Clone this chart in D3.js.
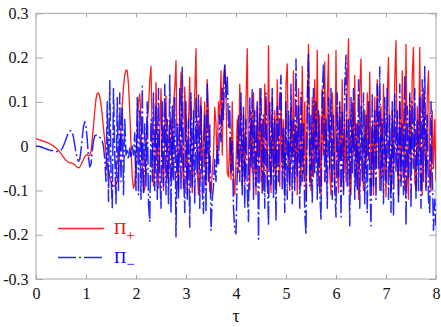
<!DOCTYPE html>
<html>
<head>
<meta charset="utf-8">
<script src="https://cdn.jsdelivr.net/npm/d3@7"></script>
<style>
  html, body { margin: 0; padding: 0; background: #fff; }
  svg { display: block; }
</style>
</head>
<body>
<svg id="chart" width="441" height="327"></svg>
<script>
// ---- data, one row of samples per unit of tau ----
const xTicks = [0, 1, 2, 3, 4, 5, 6, 7, 8];
const xTickLabels = ["0", "1", "2", "3", "4", "5", "6", "7", "8"];
const yTicks = [0.3, 0.2, 0.1, 0, -0.1, -0.2, -0.3];
const yTickLabels = ["0.3", "0.2", "0.1", "0", "-0.1", "-0.2", "-0.3"];
const seriesNames = ["\u03A0", "\u03A0"];
const seriesSubs = ["+", "\u2212"];

const piPlus = [
  [0.017,0.016,0.015,0.014,0.013,0.012,0.011,0.010,0.009,0.008,
   0.007,0.005,0.004,0.002,0.000,-0.002,-0.004,-0.007,-0.010,-0.013,
   -0.017,-0.021,-0.025,-0.029,-0.032,-0.034,-0.036,-0.037,-0.038,-0.039,
   -0.040,-0.042,-0.045,-0.048,-0.049,-0.047,-0.042,-0.036,-0.030,-0.024],
  [-0.020,-0.019,-0.022,-0.021,-0.012,0.015,0.045,0.080,0.107,0.119,
   0.120,0.112,0.095,0.070,0.040,0.012,-0.015,-0.038,-0.056,-0.070,
   -0.080,-0.087,-0.090,-0.090,-0.087,-0.078,-0.055,-0.015,0.040,0.095,
   0.135,0.160,0.172,0.170,0.140,0.080,0.000,-0.070,-0.095,-0.085],
  [-0.030,0.040,0.100,0.118,0.060,-0.040,-0.105,-0.095,-0.020,0.060,
   0.085,0.150,0.180,0.020,-0.090,-0.060,0.144,0.040,-0.095,0.020,
   0.130,-0.030,-0.100,0.030,0.114,-0.060,-0.085,0.050,0.060,-0.070,
   0.100,0.130,0.193,-0.050,-0.100,0.080,0.167,-0.020,-0.095,0.133],
  [0.020,-0.110,0.050,0.156,-0.040,-0.105,0.030,0.120,0.220,-0.060,
   -0.110,0.060,0.110,-0.080,0.020,0.100,-0.090,0.150,0.070,-0.100,
   -0.107,-0.060,-0.020,0.088,0.050,-0.040,0.100,0.060,0.170,-0.020,
   0.156,0.182,0.120,-0.060,-0.070,0.020,-0.075,0.100,-0.070,-0.110],
  [-0.040,0.060,-0.060,0.140,0.030,-0.090,0.070,-0.080,0.100,0.220,
   -0.050,-0.100,0.080,-0.060,0.120,-0.020,-0.110,0.090,-0.040,0.130,
   -0.080,0.060,-0.100,0.140,0.020,-0.090,0.227,-0.030,-0.105,0.110,
   -0.060,0.080,-0.100,0.150,0.030,-0.090,0.120,-0.050,0.060,-0.110],
  [0.140,0.186,-0.040,-0.100,0.090,-0.020,0.170,-0.080,0.050,-0.110,
   0.130,0.010,-0.090,0.180,-0.060,0.100,-0.120,0.060,0.230,-0.030,
   -0.100,0.110,-0.070,0.150,-0.040,0.216,-0.090,0.070,-0.110,0.130,
   -0.020,0.190,-0.080,0.100,0.208,-0.060,-0.110,0.120,0.030,-0.090],
  [0.216,-0.050,-0.105,0.090,-0.030,0.150,-0.100,0.060,-0.080,0.140,
   0.242,-0.060,-0.110,0.100,-0.020,0.160,-0.090,0.050,-0.120,0.130,
   0.197,-0.040,-0.100,0.080,-0.060,0.120,-0.030,0.167,-0.090,0.040,
   -0.110,0.110,-0.050,0.150,0.020,-0.100,0.090,-0.070,0.140,-0.030],
  [-0.115,0.120,0.200,-0.050,-0.100,0.080,-0.060,0.150,0.238,-0.030,
   -0.110,0.100,-0.080,0.170,0.020,-0.100,0.230,-0.050,-0.120,0.110,
   -0.040,0.160,0.223,-0.080,-0.100,0.090,-0.030,0.223,-0.060,-0.110,
   0.130,0.010,-0.090,0.110,0.170,-0.070,-0.100,0.080,-0.050,0.060],
  [-0.080]
];

const piMinus = [
  [0.000,0.000,0.000,-0.001,-0.002,-0.003,-0.004,-0.005,-0.006,-0.007,
   -0.008,-0.009,-0.010,-0.010,-0.011,-0.011,-0.012,-0.012,-0.012,-0.011,
   -0.009,-0.005,0.001,0.008,0.016,0.024,0.030,0.034,0.035,0.031,
   0.020,0.003,-0.015,-0.028,-0.034,-0.030,-0.010,0.020,0.045,0.055],
  [0.045,0.015,-0.025,-0.047,-0.040,-0.010,0.012,0.023,0.025,0.024,
   0.022,0.020,0.018,0.012,0.000,-0.030,-0.080,0.100,-0.125,0.148,
   -0.060,-0.139,0.130,-0.020,-0.130,0.110,-0.100,0.120,-0.080,0.090,
   -0.110,0.060,-0.020,-0.010,-0.030,-0.005,-0.025,0.000,-0.020,0.030],
  [-0.100,0.110,-0.110,0.080,-0.120,0.135,-0.107,0.050,-0.090,0.100,
   -0.130,-0.171,0.060,-0.080,0.120,-0.100,0.090,-0.120,0.130,-0.060,
   -0.140,0.100,-0.090,0.140,-0.110,0.060,-0.130,0.160,-0.152,0.090,
   -0.080,0.110,-0.205,0.050,-0.120,0.130,-0.100,0.178,-0.050,-0.150],
  [0.100,-0.120,0.060,-0.183,0.120,-0.090,0.080,-0.130,0.110,-0.060,
   0.120,-0.140,0.090,-0.100,-0.152,0.070,-0.150,0.144,-0.080,0.050,
   -0.190,-0.120,-0.090,-0.030,-0.080,0.000,-0.040,0.070,0.010,0.130,
   0.060,0.186,0.110,0.160,0.040,0.090,-0.060,0.010,-0.140,-0.190],
  [-0.198,-0.060,0.070,-0.080,0.120,-0.110,0.090,-0.140,0.060,-0.100,
   -0.170,0.110,-0.050,0.130,-0.120,0.080,-0.090,0.100,-0.210,0.050,
   0.130,-0.110,0.070,-0.140,0.120,-0.060,-0.180,0.100,-0.090,0.130,
   -0.120,0.060,-0.170,0.090,-0.080,0.110,0.160,-0.100,0.040,-0.150],
  [0.100,-0.120,0.080,-0.090,0.140,-0.130,0.060,-0.100,0.197,-0.070,
   0.090,-0.140,0.120,-0.080,0.050,-0.150,-0.200,0.110,0.210,-0.090,
   0.070,-0.130,0.130,-0.060,0.100,-0.120,0.080,-0.100,-0.167,0.120,
   0.186,-0.080,0.060,-0.140,0.110,-0.050,0.130,-0.120,0.070,-0.100],
  [-0.160,0.120,-0.070,0.100,-0.160,0.080,-0.110,0.140,0.205,-0.090,
   0.060,-0.180,0.110,-0.060,0.130,-0.120,0.050,-0.100,0.150,-0.140,
   0.090,-0.080,0.120,-0.130,0.070,-0.150,0.100,-0.060,-0.180,0.120,
   -0.090,0.080,-0.120,0.140,-0.050,0.179,-0.100,0.060,-0.130,0.110],
  [-0.080,0.130,-0.120,0.070,-0.150,0.100,-0.160,0.120,-0.060,0.080,
   -0.130,0.140,-0.090,0.050,-0.110,0.160,-0.180,0.090,-0.070,0.120,
   -0.140,0.100,-0.050,0.130,-0.120,0.060,-0.100,0.110,-0.140,0.150,
   -0.080,0.180,-0.100,0.070,-0.120,-0.150,0.100,-0.060,-0.190,-0.120],
  [-0.180]
];

// ---- helpers ----
function toPoints(rows) {
  const pts = [];
  rows.forEach((row, k) => row.forEach((v, j) => pts.push([k + j / row.length, v])));
  return pts;
}
const SERIF = "Liberation Serif";

// ---- layout ----
const svg = d3.select("#chart").attr("font-family", SERIF);
const L = 36, R = 436, T = 13.3, B = 279;
const x = d3.scaleLinear().domain([0, 8]).range([L, R]);
const y = d3.scaleLinear().domain([-0.3, 0.3]).range([B, T]);
const axisColor = "#a6a6a6";

svg.append("defs").append("clipPath").attr("id", "clip")
  .append("rect").attr("x", L).attr("y", T).attr("width", R - L).attr("height", B - T);

// frame
svg.append("rect").attr("x", L).attr("y", T).attr("width", R - L).attr("height", B - T)
  .attr("fill", "none").attr("stroke", axisColor).attr("stroke-width", 1);

function styleAxis(g, showText) {
  g.attr("font-family", SERIF).attr("font-size", 16);
  g.select(".domain").remove();
  g.selectAll(".tick line").attr("stroke", axisColor).attr("stroke-width", 1);
  g.selectAll(".tick text").attr("fill", "#111")
    .attr("font-family", SERIF).attr("font-size", 16);
  if (!showText) g.selectAll(".tick text").remove();
}

svg.append("g").attr("transform", `translate(0,${B})`)
  .call(d3.axisBottom(x).tickValues(xTicks).tickFormat((d, i) => xTickLabels[i])
    .tickSizeInner(-4).tickSizeOuter(0).tickPadding(8.5))
  .call(g => styleAxis(g, true));
svg.append("g").attr("transform", `translate(0,${T})`)
  .call(d3.axisTop(x).tickValues(xTicks).tickSizeInner(-4).tickSizeOuter(0))
  .call(g => styleAxis(g, false));
svg.append("g").attr("transform", `translate(${L},0)`)
  .call(d3.axisLeft(y).tickValues(yTicks).tickFormat((d, i) => yTickLabels[i])
    .tickSizeInner(-7).tickSizeOuter(0).tickPadding(7.5))
  .call(g => styleAxis(g, true));
svg.append("g").attr("transform", `translate(${R},0)`)
  .call(d3.axisRight(y).tickValues(yTicks).tickSizeInner(-7).tickSizeOuter(0))
  .call(g => styleAxis(g, false));

// axis title
svg.append("text").attr("x", x(4)).attr("y", 322).attr("text-anchor", "middle")
  .attr("font-family", SERIF).attr("font-size", 18).attr("fill", "#111").text("\u03C4");

// lines
const line = d3.line().x(d => x(d[0])).y(d => y(d[1]));
const plot = svg.append("g").attr("clip-path", "url(#clip)");
const redColor = "#ff0000", blueColor = "#0000ff";
const dash = "18,3,2,3";

plot.append("path").datum(toPoints(piPlus)).attr("d", line)
  .attr("fill", "none").attr("stroke", redColor).attr("stroke-width", 1.3)
  .attr("stroke-linejoin", "round").attr("opacity", 0.9);
plot.append("path").datum(toPoints(piMinus)).attr("d", line)
  .attr("fill", "none").attr("stroke", blueColor).attr("stroke-width", 1.5)
  .attr("stroke-dasharray", dash).attr("stroke-linejoin", "round").attr("opacity", 0.85);

// legend
const legend = svg.append("g");
const legendItems = [
  { y: 228.5, color: redColor, dash: null, w: 1.3 },
  { y: 257.5, color: blueColor, dash: dash, w: 1.5 }
];
legendItems.forEach((it, i) => {
  legend.append("line").attr("x1", 58).attr("x2", 104).attr("y1", it.y).attr("y2", it.y)
    .attr("stroke", it.color).attr("stroke-width", it.w)
    .attr("stroke-dasharray", it.dash).attr("opacity", 0.85);
  const t = legend.append("text").attr("x", 114).attr("y", it.y + 5)
    .attr("font-family", SERIF).attr("font-size", 17).attr("fill", it.color);
  t.append("tspan").text(seriesNames[i]);
  t.append("tspan").attr("dy", 6).attr("font-size", 15).text(seriesSubs[i]);
});
</script>
</body>
</html>
